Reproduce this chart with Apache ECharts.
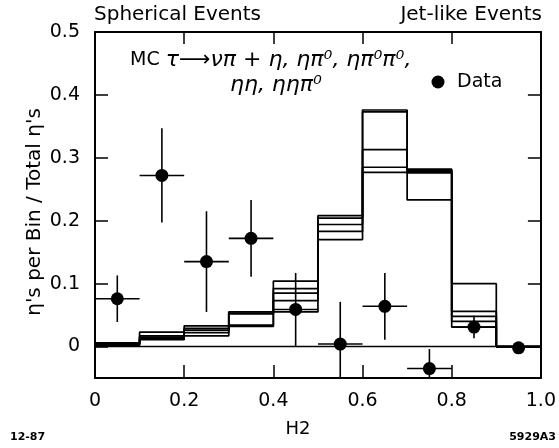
<!DOCTYPE html>
<html>
<head>
<meta charset="utf-8">
<script src="https://cdn.jsdelivr.net/npm/echarts@6/dist/echarts.min.js"></script>
<style>html,body{margin:0;padding:0;background:#fff;}#c{width:559px;height:448px;}</style>
</head>
<body>
<div id="c"></div>
<script>
// Bin edges and centres (H2)
var binEdges = [0, 0.1, 0.2, 0.3, 0.4, 0.5, 0.6, 0.7, 0.8, 0.9, 1.0];
var binCenters = [0.05, 0.15, 0.25, 0.35, 0.45, 0.55, 0.65, 0.75, 0.85, 0.95];
// MC histograms (several decay modes)
var mc1 = [0.006, 0.023, 0.033, 0.055, 0.104, 0.208, 0.376, 0.282, 0.100, 0];
var mc2 = [0.005, 0.017, 0.029, 0.053, 0.092, 0.204, 0.373, 0.280, 0.056, 0];
var mc3 = [0.004, 0.015, 0.026, 0.052, 0.085, 0.194, 0.313, 0.278, 0.048, 0];
var mc4 = [0.003, 0.013, 0.022, 0.034, 0.073, 0.183, 0.285, 0.276, 0.040, 0];
var mc5 = [0.002, 0.011, 0.017, 0.032, 0.055, 0.170, 0.277, 0.233, 0.031, 0];
// Data points
var dataY   = [0.076, 0.272, 0.135, 0.172, 0.059, 0.004, 0.064, -0.035, 0.031, -0.002];
var dataErr = [0.037, 0.075, 0.080, 0.061, 0.058, 0.067, 0.053, 0.031, 0.018, 0];
var xHalfWidth = [0.05, 0.05, 0.05, 0.05, 0.05, 0.05, 0.05, 0.05, 0.05, 0];
// Tick values
var yTicks = [0, 0.1, 0.2, 0.3, 0.4, 0.5];
var xTicks = [0, 0.2, 0.4, 0.6, 0.8, 1.0];

var FONT = 'DejaVu Sans';
function fmt(v){ return Math.abs(v) < 1e-9 ? '0' : v.toFixed(1); }

function histData(vals){
  var d = [];
  for (var i = 0; i < vals.length; i++) d.push([binEdges[i], vals[i]]);
  d.push([binEdges[vals.length], vals[vals.length - 1]]);
  return d;
}
var mcSets = [mc1, mc2, mc3, mc4, mc5];
var series = [];
mcSets.forEach(function(s){
  series.push({
    type: 'line', step: 'end', data: histData(s), symbol: 'none',
    lineStyle: {color: '#000', width: 1.7}, silent: true, z: 2
  });
});
series.push({
  type: 'line', data: [[0, 0], [1, 0]], symbol: 'none',
  lineStyle: {color: '#000', width: 1.5}, z: 2
});
var errData = binCenters.map(function(x, i){ return [x, dataY[i], dataErr[i], xHalfWidth[i]]; });
series.push({
  type: 'custom', clip: true, z: 3,
  renderItem: function(params, api){
    var x = api.value(0), y = api.value(1), e = api.value(2), w = api.value(3);
    var children = [];
    if (e > 0) {
      var p1 = api.coord([x, y + e]), p2 = api.coord([x, y - e]);
      children.push({type: 'line', shape: {x1: p1[0], y1: p1[1], x2: p2[0], y2: p2[1]}, style: {stroke: '#000', lineWidth: 1.6}});
    }
    if (w > 0) {
      var q1 = api.coord([x - w, y]), q2 = api.coord([x + w, y]);
      children.push({type: 'line', shape: {x1: q1[0], y1: q1[1], x2: q2[0], y2: q2[1]}, style: {stroke: '#000', lineWidth: 1.6}});
    }
    return {type: 'group', children: children};
  },
  data: errData
});
series.push({
  type: 'scatter', symbol: 'circle', symbolSize: 13, z: 4,
  itemStyle: {color: '#000', opacity: 1},
  data: binCenters.map(function(x, i){ return [x, dataY[i]]; })
});

var chart = echarts.init(document.getElementById('c'), null, {renderer: 'canvas'});
var axisLineStyle = {show: true, onZero: false, lineStyle: {color: '#000', width: 2}};
var greek = {fontFamily: 'DejaVu Sans', fontStyle: 'italic', fontSize: 22, fill: '#000'};
chart.setOption({
  animation: false,
  backgroundColor: '#fff',
  grid: {left: 95, right: 16, top: 32, bottom: 70},
  xAxis: [{
    type: 'value', min: 0, max: 1, interval: 0.2, position: 'bottom',
    axisLine: axisLineStyle,
    axisTick: {inside: true, length: 13, lineStyle: {color: '#000', width: 1.5}},
    axisLabel: {color: '#000', fontFamily: FONT, fontSize: 19, margin: 14, formatter: fmt},
    splitLine: {show: false}
  }, {
    type: 'value', min: 0, max: 1, interval: 0.2, position: 'top',
    axisLine: axisLineStyle,
    axisTick: {inside: true, length: 12, lineStyle: {color: '#000', width: 1.5}},
    axisLabel: {show: false}, splitLine: {show: false}
  }],
  yAxis: [{
    type: 'value', min: -0.05, max: 0.5, position: 'left',
    axisLine: axisLineStyle,
    axisTick: {inside: true, length: 13, customValues: yTicks, lineStyle: {color: '#000', width: 1.5}},
    axisLabel: {color: '#000', fontFamily: FONT, fontSize: 19, margin: 15, customValues: yTicks, formatter: fmt},
    splitLine: {show: false}
  }, {
    type: 'value', min: -0.05, max: 0.5, position: 'right',
    axisLine: axisLineStyle,
    axisTick: {inside: true, length: 13, customValues: yTicks, lineStyle: {color: '#000', width: 1.5}},
    axisLabel: {show: false}, splitLine: {show: false}
  }],
  series: series,
  graphic: [
    {type: 'text', left: 94, top: 5, style: {text: 'Spherical Events', font: '20px ' + FONT, fill: '#000'}},
    {type: 'text', right: 17, top: 5, style: {text: 'Jet-like Events', font: '20px ' + FONT, fill: '#000'}},
    {type: 'text', x: 35, y: 212, rotation: Math.PI / 2,
      style: {text: "η's per Bin / Total η's", font: '20px ' + FONT, fill: '#000', align: 'center', verticalAlign: 'middle'}},
    {type: 'text', x: 298, y: 429, style: {text: 'H2', font: '18px ' + FONT, fill: '#000', align: 'center', verticalAlign: 'middle'}},
    {type: 'text', x: 10, y: 437, style: {text: '12-87', font: 'bold 11px ' + FONT, fill: '#000', align: 'left', verticalAlign: 'middle'}},
    {type: 'text', x: 556, y: 437, style: {text: '5929A3', font: 'bold 11px ' + FONT, fill: '#000', align: 'right', verticalAlign: 'middle'}},
    {type: 'text', x: 130, y: 60, style: {
      text: 'MC {g|τ⟶νπ + η, ηπ⁰, ηπ⁰π⁰,}', verticalAlign: 'middle', align: 'left',
      font: '19px ' + FONT, fill: '#000', rich: {g: greek}
    }},
    {type: 'text', x: 230, y: 85, style: {
      text: '{g|ηη, ηηπ⁰}', verticalAlign: 'middle', align: 'left',
      font: '19px ' + FONT, fill: '#000', rich: {g: greek}
    }},
    {type: 'circle', shape: {cx: 438, cy: 82, r: 6.5}, style: {fill: '#000'}},
    {type: 'text', x: 457, y: 82, style: {text: 'Data', font: '19px ' + FONT, fill: '#000', verticalAlign: 'middle'}}
  ]
});
</script>
</body>
</html>
